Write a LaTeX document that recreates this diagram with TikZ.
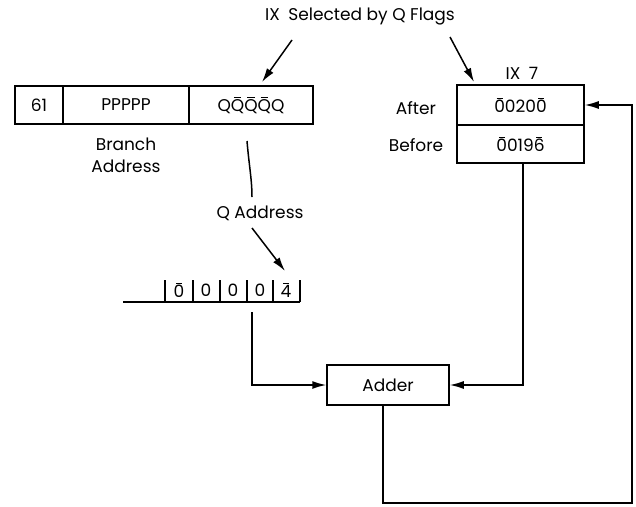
\documentclass[tikz,border=0pt]{standalone}
\usepackage{fontspec}
\setmainfont{Poppins}
\usetikzlibrary{arrows.meta}
\newcommand\obar[1]{\leavevmode\setbox0\hbox{#1}\rlap{\hbox to\wd0{\hss\raisebox{1.12\ht0}{\rule{0.55\wd0}{0.9pt}}\hss}}#1}
\begin{document}
\begin{tikzpicture}[x=1pt,y=-1pt,
  line width=1.5pt,
  every node/.style={font=\fontsize{17}{22}\selectfont, inner sep=0pt},
  cell/.style={draw, line width=1.5pt, minimum height=38pt, anchor=center},
  arr/.style={-{Latex[length=14pt,width=8pt]}},
  lbl/.style={align=center}]
\useasboundingbox (0,0) rectangle (636,506);
% instruction word
\node[cell, minimum width=48pt] (op) at (39,105) {61};
\node[cell, minimum width=126pt] (pp) at (126,105) {PPPPP};
\node[cell, minimum width=124pt] (qq) at (251,105) {Q\obar{Q}\obar{Q}\obar{Q}Q};
\node[lbl] (branch) at (126,155) {Branch\\Address};
% title
\node (title) at (360,17) {IX\enspace Selected by Q Flags};
\coordinate (t1) at (292,40);
\coordinate (t1e) at (262,82);
\coordinate (t2) at (450,37);
\coordinate (t2e) at (474,82);
\draw[arr] (t1) -- (t1e);
\draw[arr] (t2) -- (t2e);
% index register
\node (ix) at (522,73) {IX\enspace 7};
\node[cell, minimum width=127pt, minimum height=40pt] (after) at (520.5,105) {\obar{0}020\obar{0}};
\node[cell, minimum width=127pt] (before) at (520.5,144) {\obar{0}019\obar{6}};
\node (afterl) at (416,108) {After};
\node (beforel) at (416,145) {Before};
% Q address
\coordinate (c1) at (247,141);
\coordinate (c2) at (252,197);
\draw (c1) .. controls (249,165) and (252,180) .. (c2);
\node (qaddr) at (260,213) {Q Address};
\coordinate (q1) at (252,228);
\coordinate (q2) at (285,271);
\draw[arr] (q1) -- (q2);
% register in storage
\coordinate (r0) at (123,302);
\coordinate (r6) at (300,302);
\draw (r0) -- (r6);
\foreach \x in {165,193,220,247,273,300} \draw[line width=1.1pt] (\x,280) -- (\x,302);
\node (d1) at (179,290) {\obar{0}};
\node (d2) at (206,290) {0};
\node (d3) at (233,290) {0};
\node (d4) at (260,290) {0};
\node (d5) at (286,290) {\obar{4}};
% adder
\node[cell, minimum width=122pt, minimum height=40pt] (adder) at (388,385) {Adder};
\coordinate (rdown) at (252,312);
\draw[arr] (rdown) |- (adder.west);
\draw[arr] (before.south -| 523,0) |- (adder.east);
\coordinate (loop) at (632,503);
\draw[arr] (adder.south -| 383,0) -- (383,503) -- (loop) |- (after.east);
\end{tikzpicture}
\end{document}
